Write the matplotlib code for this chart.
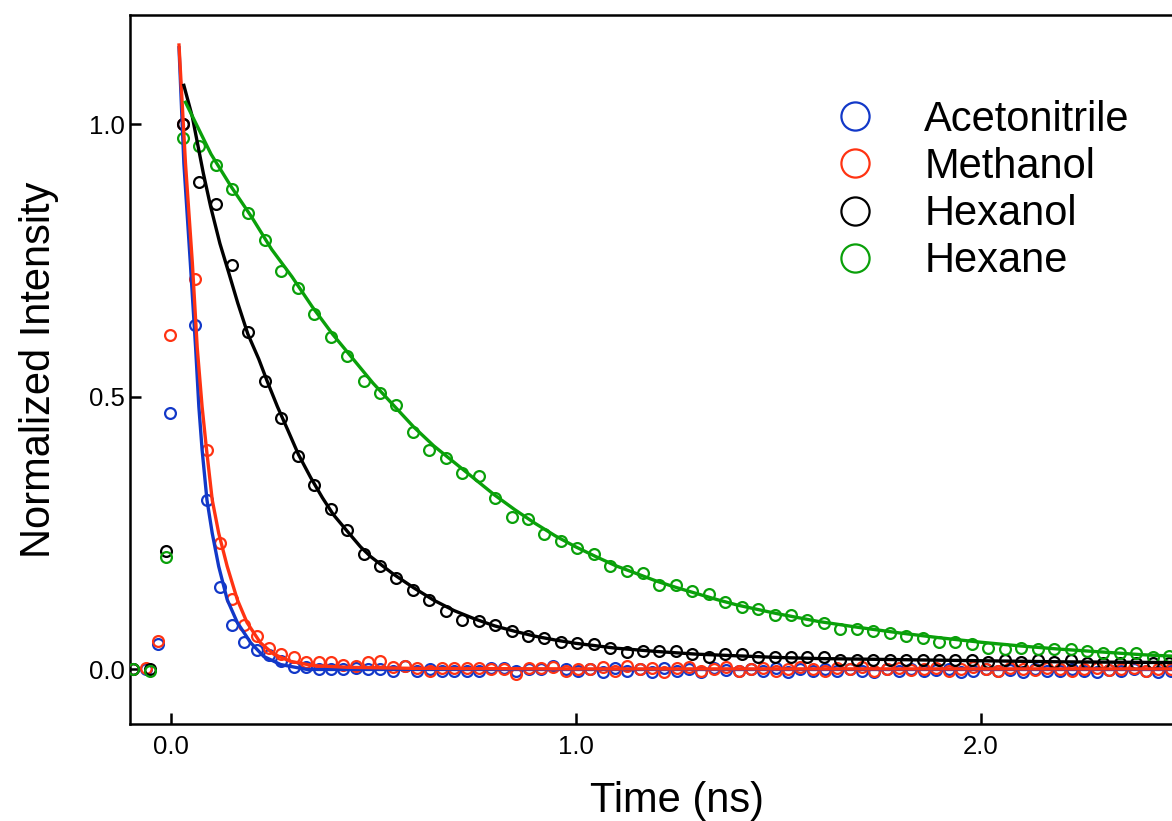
import matplotlib
matplotlib.use("Agg")
import matplotlib.pyplot as plt
import numpy as np

plt.rcParams['font.family'] = ['Liberation Sans', 'DejaVu Sans']

# sampling times (ns)
t_fast = 0.03 + 0.0305*np.arange(-4, 81)   # Acetonitrile, Methanol
t_slow = 0.03 + 0.0406*np.arange(-3, 61)   # Hexanol, Hexane

# measured decays
acetonitrile = [0.0, 0.0, 0.046, 0.47, 1.0, 0.632, 0.31, 0.152, 0.081, 0.051,
                0.035, 0.027, 0.015, 0.005, 0.004, 0.0, 0.0, 0.0, 0.002, 0.0,
                0.0, -0.003, 0.006, -0.003, 0.0, -0.003, -0.003, -0.003, -0.003, 0.003,
                0.003, -0.003, 0.0, 0.0, 0.006, 0.0, -0.002, 0.001, -0.004, 0.002,
                -0.003, 0.0, -0.005, 0.002, -0.002, 0.0, -0.004, 0.003, -0.001, -0.003,
                0.0, -0.002, 0.002, -0.004, 0.0, -0.002, 0.001, -0.003, 0.0, -0.002,
                -0.004, 0.0, -0.002, 0.001, -0.003, -0.001, 0.0, -0.004, -0.002, 0.0,
                -0.003, -0.001, -0.004, 0.0, -0.002, -0.003, 0.0, -0.002, -0.004, -0.001,
                -0.003, 0.0, -0.002, -0.004, -0.002]
methanol = [0.0, 0.003, 0.052, 0.614, 1.0, 0.716, 0.403, 0.232, 0.13, 0.081,
            0.062, 0.04, 0.029, 0.022, 0.013, 0.013, 0.013, 0.009, 0.007, 0.013,
            0.015, 0.004, 0.006, 0.003, -0.003, 0.003, 0.003, 0.003, 0.003, 0.0,
            0.0, -0.009, 0.003, 0.003, 0.005, -0.003, 0.0, 0.001, 0.004, -0.002,
            0.006, 0.0, 0.003, -0.004, 0.002, 0.005, -0.002, 0.0, 0.004, -0.003,
            0.001, 0.003, -0.002, 0.0, 0.005, 0.001, -0.003, 0.002, 0.0, 0.004,
            -0.002, 0.001, 0.003, -0.001, 0.0, 0.002, -0.003, 0.001, 0.004, 0.0,
            -0.002, 0.002, 0.001, -0.001, 0.003, 0.0, -0.002, 0.001, 0.002, -0.001,
            0.0, 0.002, -0.002, 0.001, 0.0]
hexanol = [0.0, 0.0, 0.218, 1.0, 0.894, 0.853, 0.741, 0.619, 0.529, 0.461,
           0.392, 0.339, 0.295, 0.256, 0.212, 0.19, 0.168, 0.146, 0.127, 0.107,
           0.09, 0.088, 0.081, 0.07, 0.062, 0.057, 0.051, 0.049, 0.047, 0.039,
           0.032, 0.033, 0.033, 0.033, 0.028, 0.022, 0.028, 0.028, 0.022, 0.022,
           0.022, 0.022, 0.022, 0.018, 0.018, 0.018, 0.018, 0.018, 0.018, 0.018,
           0.018, 0.018, 0.013, 0.018, 0.013, 0.018, 0.013, 0.018, 0.011, 0.011,
           0.011, 0.011, 0.011, 0.011]
hexane = [0.0, -0.003, 0.207, 0.975, 0.96, 0.925, 0.881, 0.837, 0.788, 0.731,
          0.70, 0.652, 0.61, 0.575, 0.529, 0.507, 0.485, 0.436, 0.403, 0.388,
          0.361, 0.355, 0.315, 0.28, 0.276, 0.248, 0.236, 0.222, 0.212, 0.19,
          0.181, 0.177, 0.154, 0.154, 0.143, 0.139, 0.123, 0.114, 0.11, 0.099,
          0.099, 0.09, 0.086, 0.075, 0.075, 0.071, 0.066, 0.061, 0.057, 0.051,
          0.051, 0.046, 0.04, 0.037, 0.04, 0.037, 0.037, 0.038, 0.033, 0.031,
          0.031, 0.031, 0.022, 0.024]

# fits
fit_acn_t = [0.021, 0.033, 0.049, 0.062, 0.07, 0.078, 0.09, 0.103, 0.119, 0.14,
             0.165, 0.198, 0.23, 0.272, 0.337, 0.5, 2.6]
fit_acn = [1.14, 0.928, 0.745, 0.59, 0.482, 0.403, 0.311, 0.25, 0.189, 0.128,
           0.086, 0.049, 0.024, 0.009, 0.0, 0.0, 0.0]
fit_meoh_t = [0.021, 0.037, 0.054, 0.066, 0.078, 0.089, 0.103, 0.119, 0.14, 0.165,
              0.189, 0.222, 0.255, 0.296, 0.353, 0.437, 0.6, 1.0, 2.6]
fit_meoh = [1.145, 0.928, 0.745, 0.59, 0.482, 0.403, 0.311, 0.25, 0.189, 0.128,
            0.086, 0.049, 0.028, 0.015, 0.007, 0.004, 0.002, 0.001, 0.001]
fit_hexol_t = [0.033, 0.054, 0.07, 0.081, 0.099, 0.122, 0.144, 0.166, 0.191, 0.218,
               0.239, 0.264, 0.289, 0.316, 0.346, 0.375, 0.402, 0.437, 0.469, 0.494,
               0.55, 0.60, 0.65, 0.70, 0.75, 0.80, 0.85, 0.90, 0.95, 1.0,
               1.1, 1.2, 1.3, 1.4, 1.5, 1.6, 1.8, 2.0, 2.2, 2.6]
fit_hexol = [1.071, 1.013, 0.952, 0.91, 0.849, 0.781, 0.727, 0.672, 0.615, 0.569,
             0.528, 0.482, 0.44, 0.394, 0.352, 0.315, 0.284, 0.253, 0.225, 0.207,
             0.175, 0.15, 0.127, 0.108, 0.093, 0.08, 0.07, 0.061, 0.054, 0.048,
             0.039, 0.033, 0.028, 0.025, 0.022, 0.02, 0.018, 0.016, 0.014, 0.012]
fit_hex_t = [0.037, 0.10, 0.15, 0.20, 0.25, 0.30, 0.35, 0.40, 0.45, 0.50,
             0.55, 0.60, 0.65, 0.70, 0.75, 0.80, 0.85, 0.90, 0.95, 1.00,
             1.05, 1.10, 1.15, 1.20, 1.25, 1.30, 1.35, 1.40, 1.45, 1.50,
             1.55, 1.60, 1.70, 1.80, 1.90, 2.00, 2.10, 2.20, 2.30, 2.40, 2.60]
fit_hex = [1.04, 0.945, 0.885, 0.83, 0.77, 0.72, 0.665, 0.615, 0.57, 0.525,
           0.485, 0.445, 0.41, 0.38, 0.35, 0.32, 0.293, 0.268, 0.245, 0.225,
           0.207, 0.19, 0.176, 0.162, 0.15, 0.139, 0.128, 0.118, 0.11, 0.102,
           0.095, 0.088, 0.077, 0.067, 0.058, 0.05, 0.043, 0.037, 0.032, 0.027, 0.02]

c_blue = '#1238C8'
c_red = '#FF3312'
c_black = 'black'
c_green = '#0AA00A'

fig = plt.figure(figsize=(11.72, 8.21), dpi=100)
ax = fig.add_axes([130/1172, 97/821, 1093.5/1172, 709/821])

series = [(t_fast, acetonitrile, fit_acn_t, fit_acn, c_blue, "Acetonitrile"),
          (t_fast, methanol, fit_meoh_t, fit_meoh, c_red, "Methanol"),
          (t_slow, hexanol, fit_hexol_t, fit_hexol, c_black, "Hexanol"),
          (t_slow, hexane, fit_hex_t, fit_hex, c_green, "Hexane")]

for t, y, tf, yf, col, name in series:
    ax.plot(t, y, 'o', ms=7.8, mfc='none', mec=col, mew=1.6, label=name, zorder=3)
    ax.plot(tf, yf, '-', color=col, lw=2.4, zorder=4)

ax.set_xlim(-0.1, 2.6)
ax.set_ylim(-0.1, 1.2)
ax.set_xticks([0, 1, 2])
ax.set_xticklabels(['0.0', '1.0', '2.0'])
ax.set_yticks([0, 0.5, 1.0])
ax.set_yticklabels(['0.0', '0.5', '1.0'])
ax.tick_params(direction='in', length=8, width=1.8, labelsize=18.5)
ax.tick_params(axis='x', pad=8)
ax.tick_params(axis='y', pad=3.6)
for side in ['left', 'bottom', 'top']:
    ax.spines[side].set_linewidth(1.8)
ax.spines['right'].set_visible(False)

ax.set_xlabel("Time (ns)", fontsize=30, labelpad=16)
ax.set_ylabel("Normalized Intensity", fontsize=30, labelpad=22)

ax.legend(loc='upper left', bbox_to_anchor=(834/1172, (821-100)/821),
          bbox_transform=fig.transFigure, frameon=False, fontsize=30,
          markerscale=2.6, handlelength=1.0, handletextpad=1.17,
          labelspacing=0.17, borderpad=0, borderaxespad=0)

plt.savefig('out.png', dpi=100)
